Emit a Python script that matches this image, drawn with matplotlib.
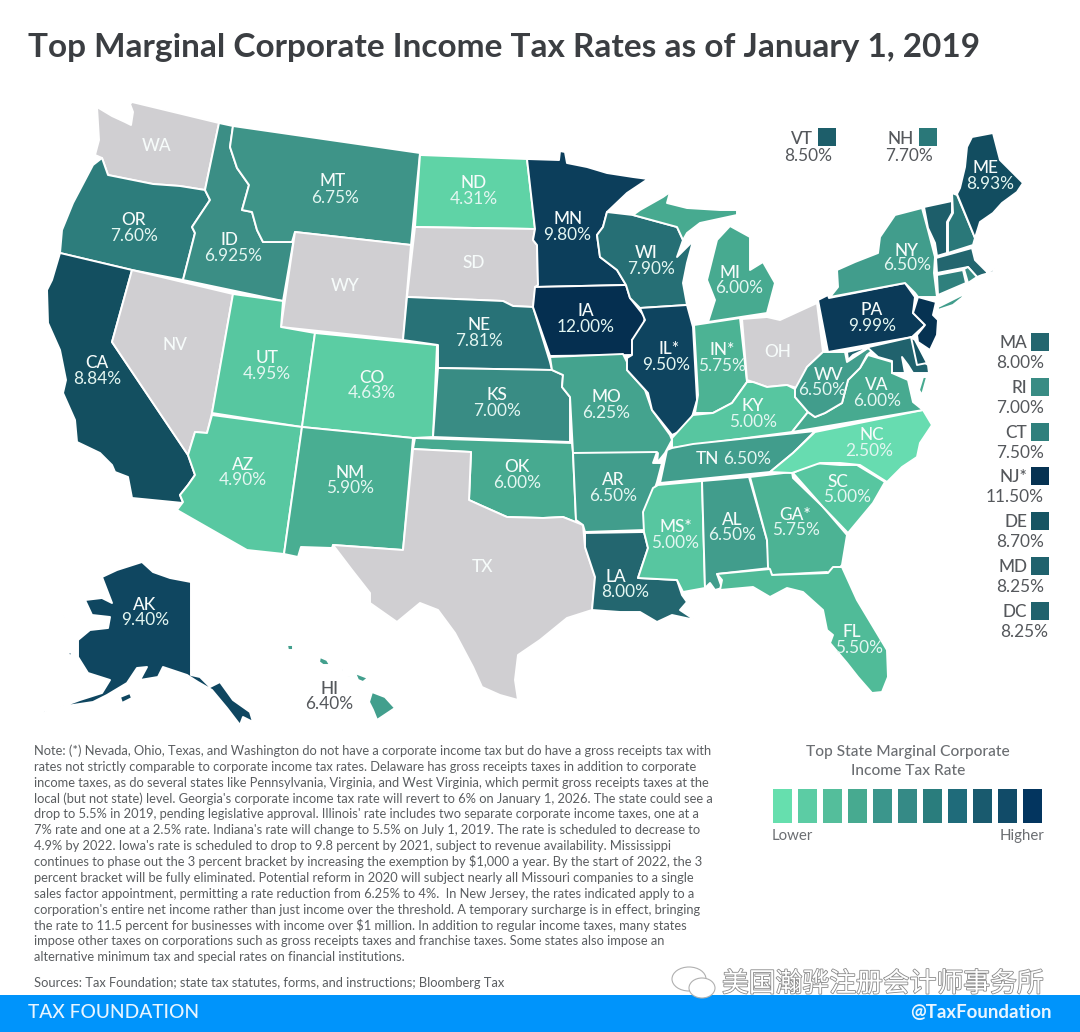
import matplotlib
matplotlib.use("Agg")
import matplotlib.pyplot as plt
import matplotlib.patheffects as pe
from matplotlib.colors import LinearSegmentedColormap, Normalize
from matplotlib.patches import Polygon, Rectangle, Ellipse

plt.rcParams['font.family'] = ['Lato', 'DejaVu Sans']

TITLE = "Top Marginal Corporate Income Tax Rates as of January 1, 2019"

# rates read from the map, None = no corporate income tax
rates = {
    "AL": "6.50%", "AK": "9.40%", "AZ": "4.90%", "AR": "6.50%", "CA": "8.84%", "CO": "4.63%",
    "CT": "7.50%", "DE": "8.70%", "FL": "5.50%", "GA*": "5.75%", "HI": "6.40%", "ID": "6.925%",
    "IL*": "9.50%", "IN*": "5.75%", "IA": "12.00%", "KS": "7.00%", "KY": "5.00%", "LA": "8.00%",
    "ME": "8.93%", "MD": "8.25%", "MA": "8.00%", "MI": "6.00%", "MN": "9.80%", "MS*": "5.00%",
    "MO": "6.25%", "MT": "6.75%", "NE": "7.81%", "NH": "7.70%", "NJ*": "11.50%", "NM": "5.90%",
    "NY": "6.50%", "NC": "2.50%", "ND": "4.31%", "OK": "6.00%", "OR": "7.60%", "PA": "9.99%",
    "RI": "7.00%", "SC": "5.00%", "TN": "6.50%", "UT": "4.95%", "VT": "8.50%", "VA": "6.00%",
    "WV": "6.50%", "WI": "7.90%", "DC": "8.25%",
    "WA": None, "NV": None, "WY": None, "SD": None, "OH": None, "TX": None,
}

# colour ramp, sampled from the states
ramp_rates = [2.5, 4.31, 5.0, 5.5, 6.0, 6.5, 6.925, 7.6, 7.9, 8.0, 8.5, 8.84, 9.4, 9.99, 12.0]
ramp_colors = ["#67dcb0", "#5fd3a6", "#57c6a0", "#50bb98", "#47aa90", "#419d8c", "#3b8e85", "#2d7d7c",
               "#266f75", "#23666f", "#1d5e6a", "#134f60", "#0f4660", "#0b3a58", "#052f50"]
legend_colors = ["#66dfae", "#5ccca4", "#54be9b", "#47aa90", "#3b968c", "#358a86",
                 "#2a7d7d", "#1f6b7a", "#195a6e", "#114b68", "#03355f"]
GRAY = "#d0cfd2"

note_lines = [
    "Note: (*) Nevada, Ohio, Texas, and Washington do not have a corporate income tax but do have a gross receipts tax with",
    "rates not strictly comparable to corporate income tax rates. Delaware has gross receipts taxes in addition to corporate",
    "income taxes, as do several states like Pennsylvania, Virginia, and West Virginia, which permit gross receipts taxes at the",
    "local (but not state) level. Georgia's corporate income tax rate will revert to 6% on January 1, 2026. The state could see a",
    "drop to 5.5% in 2019, pending legislative approval. Illinois' rate includes two separate corporate income taxes, one at a",
    "7% rate and one at a 2.5% rate. Indiana's rate will change to 5.5% on July 1, 2019. The rate is scheduled to decrease to",
    "4.9% by 2022. Iowa's rate is scheduled to drop to 9.8 percent by 2021, subject to revenue availability. Mississippi",
    "continues to phase out the 3 percent bracket by increasing the exemption by $1,000 a year. By the start of 2022, the 3",
    "percent bracket will be fully eliminated. Potential reform in 2020 will subject nearly all Missouri companies to a single",
    "sales factor appointment, permitting a rate reduction from 6.25% to 4%.  In New Jersey, the rates indicated apply to a",
    "corporation's entire net income rather than just income over the threshold. A temporary surcharge is in effect, bringing",
    "the rate to 11.5 percent for businesses with income over $1 million. In addition to regular income taxes, many states",
    "impose other taxes on corporations such as gross receipts taxes and franchise taxes. Some states also impose an",
    "alternative minimum tax and special rates on financial institutions.",
]
SOURCES = "Sources: Tax Foundation; state tax statutes, forms, and instructions; Bloomberg Tax"

# state outlines traced in image pixels (x, y), there is no map library here
outlines = {
    "WA": [[(97,107),(112,116),(125,122),(131,125),(133,112),(130,104),(132,102),(219,123),(205,190),(180,186),(153,184),(123,178),(108,175),(102,158),(95,155),(99,140)]],
    "OR": [[(102,158),(108,175),(123,178),(153,184),(180,186),(205,190),(210,200),(200,215),(192,227),(195,233),(183,280),(132,270),(60,253),(62,230),(73,203),(93,165)]],
    "CA": [[(60,253),(132,270),(112,342),(188,455),(195,475),(188,485),(180,495),(183,503),(132,498),(128,477),(115,472),(112,465),(100,453),(77,442),(75,420),(63,393),(66,380),(60,350),(48,323),(47,290),(52,280)]],
    "NV": [[(132,270),(233,294),(212,413),(207,433),(195,432),(188,455),(112,342)]],
    "ID": [[(219,123),(233,126),(230,147),(237,168),(249,185),(242,210),(252,212),(257,230),(263,242),(292,242),(295,232),(283,301),(183,280),(195,233),(192,227),(200,215),(210,200),(205,190)]],
    "MT": [[(233,126),(420,153),(411,245),(295,232),(292,242),(263,242),(257,230),(252,212),(242,210),(249,185),(237,168),(230,147)]],
    "WY": [[(295,232),(411,245),(403,340),(281,327)]],
    "UT": [[(233,294),(283,301),(281,327),(315,333),(302,427),(212,413)]],
    "CO": [[(315,333),(437,345),(433,437),(413,438),(302,427)]],
    "AZ": [[(212,415),(302,427),(284,554),(247,550),(177,510),(183,502),(180,495),(188,485),(195,475),(188,455),(195,432),(207,433)]],
    "NM": [[(302,427),(413,438),(403,550),(333,545),(332,548),(301,547),(298,557),(284,554)]],
    "ND": [[(420,155),(527,159),(535,229),(415,227)]],
    "SD": [[(415,227),(535,229),(533,240),(537,245),(538,285),(535,290),(533,307),(513,306),(503,301),(407,297)]],
    "NE": [[(407,297),(503,301),(513,306),(533,307),(550,362),(552,370),(438,368),(438,345),(403,340)]],
    "KS": [[(438,368),(552,370),(563,375),(562,387),(570,397),(570,442),(433,437)]],
    "OK": [[(415,438),(572,443),(573,453),(576,520),(583,525),(563,517),(543,518),(507,517),(480,505),(469,500),(471,452),(413,449)]],
    "TX": [[(413,449),(471,452),(469,500),(480,505),(507,517),(543,518),(563,517),(583,525),(585,547),(595,577),(592,610),(567,618),(540,640),(518,655),(515,680),(518,700),(500,695),(482,687),(473,667),(455,633),(438,610),(420,603),(397,622),(370,603),(370,593),(352,570),(333,545),(403,550)]],
    "MN": [[(527,159),(559,160),(560,151),(565,152),(567,163),(587,167),(607,173),(633,177),(648,179),(627,193),(607,212),(603,227),(597,235),(600,257),(617,270),(626,285),(535,287),(538,285),(537,245),(533,240),(535,229)]],
    "IA": [[(535,287),(626,285),(630,298),(645,317),(642,332),(632,340),(632,355),(550,356),(533,307)]],
    "MO": [[(550,357),(623,354),(627,362),(627,370),(645,390),(652,410),(670,435),(672,440),(665,453),(657,463),(658,453),(573,453),(570,397),(562,387),(563,375),(552,370)]],
    "AR": [[(573,453),(657,452),(653,463),(662,463),(657,482),(655,488),(645,512),(645,530),(585,532),(583,525),(576,520)]],
    "LA": [[(585,533),(644,532),(648,548),(638,578),(677,580),(682,595),(687,602),(680,610),(695,620),(672,615),(657,622),(640,612),(620,612),(592,610),(595,577),(585,547)]],
    "WI": [[(607,212),(633,215),(677,227),(683,240),(677,257),(693,241),(687,263),(683,283),(687,305),(640,308),(630,298),(626,285),(617,270),(600,257),(597,235),(603,227)]],
    "IL*": [[(640,308),(687,305),(693,327),(697,400),(692,417),(683,430),(672,435),(652,410),(648,393),(627,370),(627,358),(632,355),(632,340),(645,320)]],
    "MI": [[(730,226),(750,237),(750,270),(763,262),(775,283),(767,313),(708,322),(715,300),(707,280),(717,240)],
           [(640,210),(663,197),(670,192),(667,203),(687,208),(720,210),(737,210),(737,215),(700,223),(687,233),(683,240),(677,227),(633,215)]],
    "IN*": [[(694,325),(740,318),(747,382),(732,403),(713,413),(695,413),(698,395)]],
    "OH": [[(742,319),(767,317),(780,320),(817,303),(823,352),(807,367),(797,388),(787,385),(767,387),(753,382),(747,380)]],
    "KY": [[(747,382),(753,382),(767,387),(787,385),(795,389),(795,397),(808,412),(792,432),(693,445),(672,448),(672,438),(693,415),(713,413),(732,403)]],
    "TN": [[(815,431),(793,453),(770,472),(660,483),(667,450),(672,448),(693,444)]],
    "MS*": [[(658,485),(702,481),(705,588),(683,592),(677,580),(638,578),(648,548),(644,532),(643,512),(653,488)]],
    "AL": [[(702,481),(749,477),(767,540),(770,568),(717,574),(722,588),(715,590),(710,583),(705,588)]],
    "GA*": [[(750,477),(792,472),(793,478),(823,507),(847,535),(842,565),(832,577),(827,572),(772,575),(768,567),(767,540)]],
    "SC": [[(793,473),(813,463),(840,465),(857,465),(885,482),(873,503),(848,533),(823,507)]],
    "NC": [[(923,410),(932,425),(920,443),(917,457),(902,467),(887,482),(860,465),(840,463),(820,463),(792,473),(770,472),(793,453),(815,432)]],
    "FL": [[(717,574),(770,569),(772,575),(828,573),(833,567),(842,567),(857,600),(887,650),(888,677),(882,692),(872,693),(858,677),(847,663),(830,643),(833,635),(827,630),(823,610),(803,592),(787,588),(770,597),(753,587),(720,590),(722,580)]],
    "VA": [[(868,355),(892,362),(892,373),(908,380),(913,402),(923,410),(792,432),(808,412),(815,417),(825,413),(842,403),(848,380),(860,368)],
           [(927,377),(923,377),(919,390),(922,395)]],
    "WV": [[(823,352),(827,352),(845,352),(847,362),(868,348),(873,350),(867,355),(860,368),(848,380),(842,403),(825,413),(815,417),(808,412),(795,397),(795,389),(807,367)]],
    "PA": [[(818,300),(828,295),(829,298),(905,283),(915,297),(913,313),(925,325),(912,337),(828,352)]],
    "NJ*": [[(918,297),(936,302),(933,315),(938,320),(937,335),(930,350),(918,342),(917,335),(925,325),(913,313)]],
    "NY": [[(830,297),(838,287),(837,270),(855,262),(878,253),(880,237),(895,215),(922,208),(928,230),(935,257),(934,273),(937,297),(918,297),(915,293),(905,283)],
           [(938,307),(962,295),(963,297),(953,305),(938,310)]],
    "VT": [[(924,207),(952,201),(952,213),(947,222),(947,253),(937,256),(935,243),(928,228)]],
    "NH": [[(952,193),(957,195),(975,238),(973,245),(948,253),(948,222),(953,213)]],
    "ME": [[(972,137),(993,133),(1000,160),(1012,172),(1023,183),(1017,192),(1002,203),(993,213),(980,222),(975,238),(957,194),(960,188),(965,167),(967,147)]],
    "MA": [[(936,258),(972,248),(975,260),(987,272),(997,268),(993,272),(982,275),(977,277),(968,267),(937,273)]],
    "RI": [[(964,269),(968,267),(977,277),(968,283)]],
    "CT": [[(937,275),(963,270),(966,283),(938,295)]],
    "MD": [[(847,352),(912,337),(917,357),(928,365),(929,373),(913,373),(908,365),(902,357),(905,373),(892,373),(892,361),(878,357),(868,348),(853,355),(848,360)]],
    "DE": [[(911,337),(915,340),(927,363),(917,365)]],
    "AK": [[(102,577),(117,570),(142,562),(153,572),(170,578),(191,582),(191,675),(200,677),(210,687),(220,682),(233,700),(250,712),(253,722),(243,717),(240,725),(227,708),(212,690),(198,682),(187,675),(163,667),(158,677),(140,680),(147,667),(137,668),(127,683),(107,695),(93,702),(73,705),(58,708),(80,700),(102,693),(110,680),(88,673),(78,657),(78,640),(90,630),(108,628),(110,617),(92,615),(85,600),(102,598),(112,603)],
           [(120,697),(130,693),(132,698),(122,703)],[(67,652),(73,653),(70,656)],[(62,612),(68,618),(66,619)],[(42,711),(47,710),(45,713)]],
    "HI": [[(372,692),(385,697),(395,708),(377,720),(373,710),(369,702)],[(355,673),(368,678),(363,682),(358,680)],
           [(320,657),(327,660),(330,665),(323,665),(319,662)],[(287,645),(293,645),(293,650),(288,650)],
           [(342,669),(352,670),(342,671)],[(347,675),(351,675),(349,678)]],
}

# label centres : code x, code y, rate x, rate y
label_pos = {
    "WA": (157,146), "NV": (175,345), "WY": (345,286), "SD": (474,263), "OH": (778,352), "TX": (482,567),
    "OR": (134,220,134,236), "ID": (229,240,233,256), "MT": (333,181,335,198), "CA": (97,363,97,379),
    "UT": (267,358,267,374), "CO": (372,378,372,393), "AZ": (243,465,243,480), "NM": (350,473,350,488),
    "ND": (474,183,474,199), "NE": (479,325,479,341), "KS": (497,395,497,411), "MN": (568,219,567,235),
    "IA": (586,311,586,327), "WI": (646,253,651,269), "IL*": (669,349,666,365), "MI": (730,273,739,288),
    "IN*": (722,350,722,366), "MO": (606,397,606,413), "KY": (753,406,753,422), "PA": (872,310,872,326),
    "NY": (907,251,907,265), "ME": (986,168,990,184), "WV": (829,375,822,390), "VA": (877,385,877,401),
    "NC": (872,435,869,451), "TN": (707,459,747,459), "OK": (517,467,517,483), "AR": (613,480,613,496),
    "MS*": (676,527,675,543), "AL": (732,520,732,535), "GA*": (795,515,796,530), "SC": (838,482,847,497),
    "LA": (616,577,625,592), "FL": (852,632,859,648), "AK": (145,605,145,620), "HI": (329,689,329,704),
}

# states too small for a label, listed beside the map
side_top = ["VT", "NH"]
side_right = ["MA", "RI", "CT", "NJ*", "DE", "MD", "DC"]

norm = Normalize(min(ramp_rates), max(ramp_rates))
cmap = LinearSegmentedColormap.from_list("tax", [(norm(r), c) for r, c in zip(ramp_rates, ramp_colors)])

def rate_color(st):
    if rates[st] is None:
        return GRAY
    return cmap(norm(float(rates[st].rstrip("%"))))

fig = plt.figure(figsize=(10.8, 10.32), dpi=100)
ax = fig.add_axes([0, 0, 1, 1])
ax.set_xlim(0, 1080)
ax.set_ylim(1032, 0)
ax.axis("off")

ax.text(28, 48, TITLE, fontsize=24.05, fontweight="bold", color="#3b3e42", va="center", ha="left")

####map
for st, parts in outlines.items():
    for part in parts:
        ax.add_patch(Polygon(part, closed=True, facecolor=rate_color(st), edgecolor="white", linewidth=1.4, joinstyle="round"))

LIGHT = "#e3f6f1"
LABEL_SIZE = 12.4
for st, pos in label_pos.items():
    col = "#55585c" if st == "HI" else LIGHT
    code_col = "#55585c" if st == "HI" else "#f6fbfa"
    ax.text(pos[0], pos[1], st, fontsize=LABEL_SIZE, fontweight="medium", color=code_col, ha="center", va="center")
    if rates[st] is not None:
        ax.text(pos[2], pos[3], rates[st], fontsize=LABEL_SIZE, color=col, ha="center", va="center")

####small states
DARK = "#55585c"
for st, sx, tx, rx in zip(side_top, [818, 919], [813, 914], [832, 933]):
    ax.add_patch(Rectangle((sx, 128), 18, 18, facecolor=rate_color(st), edgecolor="none"))
    ax.text(tx, 139, st, fontsize=LABEL_SIZE, fontweight="medium", color=DARK, ha="right", va="center")
    ax.text(rx, 156, rates[st], fontsize=LABEL_SIZE, color=DARK, ha="right", va="center")

for i, st in enumerate(side_right):
    y = 333 + i * 44.8
    ax.add_patch(Rectangle((1031, y), 18, 18, facecolor=rate_color(st), edgecolor="none"))
    ax.text(1027, y + 10, st, fontsize=LABEL_SIZE, fontweight="medium", color=DARK, ha="right", va="center")
    ax.text(1048 if st == "DC" else 1044, y + 30, rates[st], fontsize=LABEL_SIZE, color=DARK, ha="right", va="center")

####legend
ax.text(908, 752, "Top State Marginal Corporate", fontsize=11.2, fontweight="medium", color="#6b6e72", ha="center", va="center")
ax.text(908, 771, "Income Tax Rate", fontsize=11.2, fontweight="medium", color="#6b6e72", ha="center", va="center")
for i, c in enumerate(legend_colors):
    ax.add_patch(Rectangle((773 + i * 25, 789), 18.7, 34, facecolor=c, edgecolor="none"))
ax.text(772, 836, "Lower", fontsize=10.8, color="#6b6e72", ha="left", va="center")
ax.text(1044, 836, "Higher", fontsize=10.8, color="#6b6e72", ha="right", va="center")

####notes
for i, line in enumerate(note_lines):
    ax.text(34, 751 + i * 15.85, line, fontsize=9.3, color="#5a5d60", ha="left", va="center", parse_math=False)
ax.text(34, 983, SOURCES, fontsize=9.3, color="#5a5d60", ha="left", va="center", parse_math=False)

####footer
ax.add_patch(Rectangle((0, 995), 1080, 37, facecolor="#0094fb", edgecolor="none"))
ax.text(28, 1013, "TAX FOUNDATION", fontsize=13.8, fontweight="medium", color="#e8f5ff", ha="left", va="center")
ax.text(1052, 1013, "@TaxFoundation", fontsize=13.4, fontweight="bold", color="#e8f5ff", ha="right", va="center")

####watermark
outline = [pe.withStroke(linewidth=1.2, foreground="#8a8a8a")]
ax.add_patch(Ellipse((689, 979), 34, 24, facecolor="white", edgecolor="#b0b0b0", linewidth=0.8))
ax.add_patch(Ellipse((702, 988), 26, 20, facecolor="white", edgecolor="#b0b0b0", linewidth=0.8))
ax.text(722, 984, "美国瀚骅注册会计师事务所", fontsize=19.3, color="white", ha="left", va="center",
        family=["Noto Sans CJK SC", "DejaVu Sans"], path_effects=outline)

fig.savefig("out.png", dpi=100)
